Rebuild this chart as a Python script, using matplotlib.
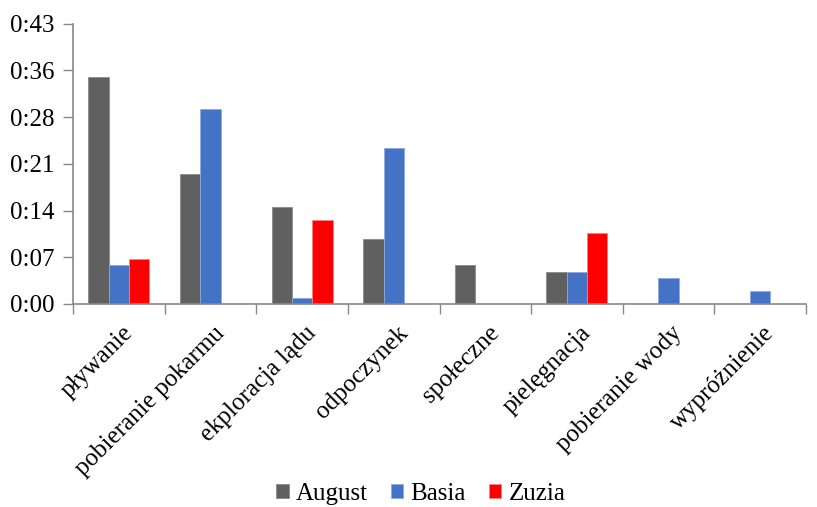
import matplotlib.pyplot as plt
from matplotlib.ticker import FuncFormatter, FixedLocator
import numpy as np

# Time spent on each behaviour, in minutes
categories = ["pływanie", "pobieranie pokarmu", "ekploracja lądu", "odpoczynek",
              "społeczne", "pielęgnacja", "pobieranie wody", "wypróżnienie"]
august = [35, 20, 15, 10, 6, 5, 0, 0]
basia = [6, 30, 1, 24, 0, 5, 4, 2]
zuzia = [7, 0, 13, 0, 0, 11, 0, 0]

names = ["August", "Basia", "Zuzia"]
colors = ["#606060", "#4472C4", "#FF0000"]
edges = ["#8a8a8a", "#8fa9dc", "#ff8080"]

plt.rcParams['font.family'] = ['Liberation Serif', 'DejaVu Serif']

fig = plt.figure(figsize=(8.17, 5.07), dpi=100)
ax = fig.add_axes([0.0894, 0.4004, 0.8971, 0.5529])

x = np.arange(len(categories))
w = 0.222
for i, (vals, name) in enumerate(zip([august, basia, zuzia], names)):
    v = np.array(vals, dtype=float)
    # zero values are left out so no flat bar sits on the axis
    h = np.where(v > 0, v, np.nan)
    ax.bar(x + (i - 1) * w, h, w, color=colors[i], edgecolor=edges[i],
           linewidth=0.6, label=name)

ax.set_xlim(-0.5, len(categories) - 0.5)
ax.set_ylim(0, 43.2)

# Excel-style h:mm ticks every 0.005 day (7.2 min)
ax.yaxis.set_major_locator(FixedLocator(np.arange(0, 43.3, 7.2)))
ax.yaxis.set_major_formatter(FuncFormatter(lambda v, p: "0:%02d" % int(v + 1e-6)))

ax.set_xticks(np.arange(-0.5, len(categories), 1.0))
ax.set_xticklabels([])
ax.set_xticks(x + 0.03, minor=True)
ax.set_xticklabels(categories, minor=True, rotation=45, ha='right', va='top',
                   rotation_mode='anchor', fontsize=18)
ax.tick_params(axis='x', which='minor', length=0, pad=13)
ax.tick_params(axis='x', which='major', length=7, color='#898989', width=1)
ax.tick_params(axis='y', length=7, color='#898989', width=1, labelsize=18, pad=6)

for s in ['top', 'right']:
    ax.spines[s].set_visible(False)
for s in ['left', 'bottom']:
    ax.spines[s].set_color('#898989')
    ax.spines[s].set_linewidth(1.2)

fig.legend(loc='lower center', ncol=3, frameon=False, fontsize=18,
           handlelength=0.5, handleheight=0.5, handletextpad=0.3,
           columnspacing=0.9, bbox_to_anchor=(0.515, -0.04))

fig.savefig("out.png", dpi=100)
